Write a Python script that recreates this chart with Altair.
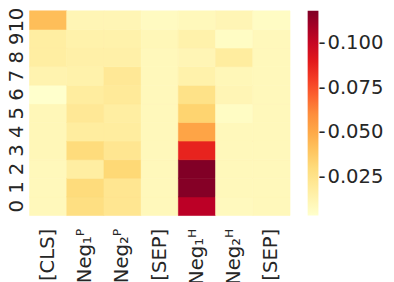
import json
import altair as alt
import pandas as pd

# Column (token) labels and layer indices
columns = ["[CLS]", "Neg₁ᴾ", "Neg₂ᴾ", "[SEP]", "Neg₁ᴴ", "Neg₂ᴴ", "[SEP]"]
layers = list(range(11))  # 0 (bottom) .. 10 (top)

# Values per column, layer 0 .. 10
cls_vals   = [0.009, 0.009, 0.009, 0.010, 0.010, 0.010, 0.0034, 0.013, 0.017, 0.017, 0.042]
neg1p_vals = [0.028, 0.030, 0.017, 0.030, 0.018, 0.021, 0.018, 0.014, 0.015, 0.014, 0.011]
neg2p_vals = [0.023, 0.023, 0.032, 0.023, 0.018, 0.017, 0.020, 0.021, 0.015, 0.014, 0.011]
sep1_vals  = [0.009, 0.009, 0.009, 0.009, 0.009, 0.009, 0.009, 0.009, 0.009, 0.010, 0.007]
neg1h_vals = [0.104, 0.117, 0.118, 0.087, 0.052, 0.034, 0.026, 0.014, 0.011, 0.014, 0.009]
neg2h_vals = [0.008, 0.009, 0.009, 0.009, 0.009, 0.006, 0.011, 0.010, 0.018, 0.006, 0.011]
sep2_vals  = [0.009, 0.009, 0.009, 0.009, 0.009, 0.009, 0.009, 0.009, 0.009, 0.009, 0.006]

vmin, vmax = 0.0034, 0.1182
cbar_ticks = [0.025, 0.05, 0.075, 0.1]

# YlOrRd (ColorBrewer 9-class) colormap stops
ylorrd = ["#ffffcc", "#ffeda0", "#fed976", "#feb24c", "#fd8d3c",
          "#fc4e2a", "#e31a1c", "#bd0026", "#800026"]
stops = [vmin + (vmax - vmin) * i / (len(ylorrd) - 1) for i in range(len(ylorrd))]

all_cols = [cls_vals, neg1p_vals, neg2p_vals, sep1_vals, neg1h_vals, neg2h_vals, sep2_vals]
rows = []
for ci, vals in enumerate(all_cols):
    for li, v in zip(layers, vals):
        rows.append({"col": ci, "layer": li, "value": v})
df = pd.DataFrame(rows)

label_expr = json.dumps(columns, ensure_ascii=False) + "[datum.value]"

FONT = "DejaVu Sans"
TXT = "#262626"
W, H = 266, 209

chart = alt.Chart(df).mark_rect(
    strokeWidth=0.6, stroke=alt.ExprRef(expr="scale('color', datum.value)")
).encode(
    x=alt.X("col:O", title=None,
            scale=alt.Scale(paddingInner=0, paddingOuter=0),
            axis=alt.Axis(labelExpr=label_expr, labelAngle=270, labelAlign="right",
                          labelBaseline="middle", labelPadding=13, ticks=False,
                          domain=False, labelFontSize=20, labelFont=FONT,
                          labelColor=TXT)),
    y=alt.Y("layer:O", title=None, sort="descending",
            scale=alt.Scale(paddingInner=0, paddingOuter=0),
            axis=alt.Axis(labelAngle=270, labelAlign="center", labelBaseline="alphabetic",
                          labelPadding=7, ticks=False, domain=False, labelFontSize=20,
                          labelFont=FONT, labelColor=TXT, labelOverlap=False)),
    color=alt.Color("value:Q",
                    scale=alt.Scale(type="linear", domain=stops, range=ylorrd, interpolate="rgb"),
                    legend=alt.Legend(type="gradient", title=None, orient="none",
                                      legendX=284, legendY=0,
                                      direction="vertical", gradientLength=H,
                                      gradientThickness=11, gradientStrokeWidth=0,
                                      values=cbar_ticks, format=".3f",
                                      labelExpr="'-\u200a' + datum.label",
                                      labelFontSize=20, labelFont=FONT, labelColor=TXT,
                                      labelOffset=0, labelOverlap=False)),
).properties(
    width=W, height=H,
    padding={"left": 22, "top": 0, "right": 98, "bottom": 66},
    autosize=alt.AutoSizeParams(type="none"),
).configure_view(stroke=None)

chart.save("out.html", embed_options={"renderer": "svg", "actions": False})
